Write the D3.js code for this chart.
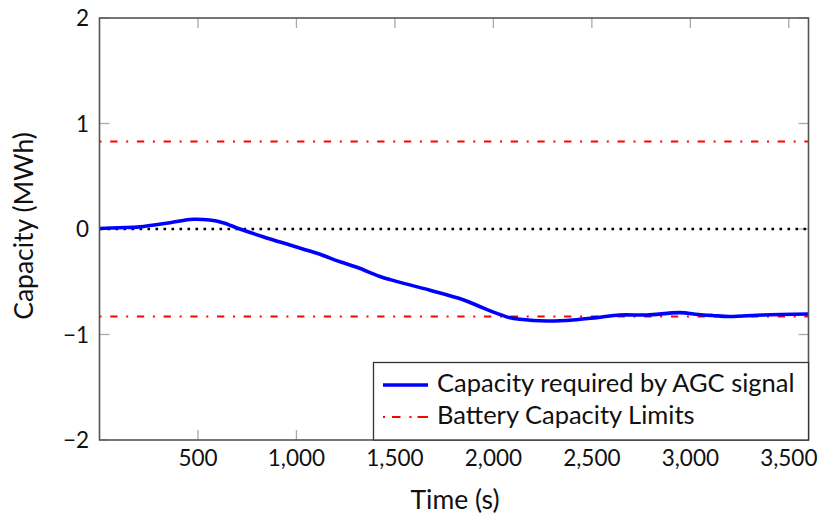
<!DOCTYPE html>
<html><head><meta charset="utf-8">
<script src="https://cdn.jsdelivr.net/npm/d3@7"></script>
<style>body{margin:0;background:#fff}svg{display:block}text{font-family:Lato,"Open Sans",sans-serif;fill:#111}</style>
</head><body>
<svg id="c" width="822" height="518"></svg>
<script>
const times = [0,100,205,358,475,560,627,713,830,967,1104,1221,1307,1424,1475,1678,1846,1950,2018,2080,2135,2271,2404,2525,2642,2779,2946,3040,3114,3200,3368,3600];
const capacity = [0.005,0.012,0.02,0.06,0.092,0.085,0.06,0.0,-0.073,-0.152,-0.23,-0.31,-0.363,-0.45,-0.48,-0.58,-0.67,-0.75,-0.80,-0.84,-0.856,-0.872,-0.863,-0.84,-0.815,-0.815,-0.793,-0.81,-0.82,-0.83,-0.815,-0.806];
const limits = [0.83,-0.83];
const xTicks = [500,1000,1500,2000,2500,3000,3500];
const yTicks = [-2,-1,0,1,2];
const seriesNames = ["Capacity required by AGC signal","Battery Capacity Limits"];

const svg = d3.select("#c");
const L=99.5,R=808.5,T=18,B=440;
const x = d3.scaleLinear().domain([0,3600]).range([L,R]);
const y = d3.scaleLinear().domain([-2,2]).range([B,T]);
const fmt = d3.format(",");
const minus = v => (v<0?"\u2212"+Math.abs(v):String(v));

// ticks (inward, both sides)
const tg = svg.append("g").attr("stroke","#aaa").attr("stroke-width",1.3);
xTicks.forEach(t=>{
  tg.append("line").attr("x1",x(t)).attr("x2",x(t)).attr("y1",B).attr("y2",B-10);
  tg.append("line").attr("x1",x(t)).attr("x2",x(t)).attr("y1",T).attr("y2",T+10);
});
yTicks.forEach(t=>{
  tg.append("line").attr("y1",y(t)).attr("y2",y(t)).attr("x1",L).attr("x2",L+10);
  tg.append("line").attr("y1",y(t)).attr("y2",y(t)).attr("x1",R).attr("x2",R-10);
});

// zero line
svg.append("line").attr("x1",x(0)).attr("x2",x(3600)).attr("y1",y(0)).attr("y2",y(0))
  .attr("stroke","#000").attr("stroke-width",2.6).attr("stroke-dasharray","2.6,5.4");
// limits
limits.forEach(v=>{
  svg.append("line").attr("x1",x(0)).attr("x2",x(3600)).attr("y1",y(v)).attr("y2",y(v))
    .attr("stroke","#ff0000").attr("stroke-width",2).attr("stroke-dasharray","2,8.7,7.3,8.7");
});
// curve
const line = d3.line().x((d,i)=>x(times[i])).y(d=>y(d)).curve(d3.curveCatmullRom.alpha(0.5));
svg.append("path").datum(capacity).attr("d",line).attr("fill","none").attr("stroke","#0000ff").attr("stroke-width",3.6).attr("stroke-linejoin","round");

// frame
svg.append("rect").attr("x",L).attr("y",T).attr("width",R-L).attr("height",B-T).attr("fill","none").attr("stroke","#555").attr("stroke-width",1.6);

// tick labels
xTicks.forEach(t=>{
  svg.append("text").attr("x",x(t)).attr("y",466).attr("text-anchor","middle").attr("font-size",22.5).text(fmt(t));
});
yTicks.forEach(t=>{
  svg.append("text").attr("x",89).attr("y",y(t)+8).attr("text-anchor","end").attr("font-size",22.5).text(minus(t));
});
// axis labels
svg.append("text").attr("x",455).attr("y",509).attr("text-anchor","middle").attr("font-size",26.5).text("Time (s)");
svg.append("text").attr("transform","translate(33,226) rotate(-90)").attr("text-anchor","middle").attr("font-size",26.5).text("Capacity (MWh)");

// legend
const lg = svg.append("g");
lg.append("rect").attr("x",373.5).attr("y",362.5).attr("width",R-373.5).attr("height",B-362.5).attr("fill","#fff").attr("stroke","#333").attr("stroke-width",1.3);
lg.append("line").attr("x1",383).attr("x2",428).attr("y1",385).attr("y2",385).attr("stroke","#0000ff").attr("stroke-width",3.6);
lg.append("line").attr("x1",383).attr("x2",428).attr("y1",417).attr("y2",417).attr("stroke","#ff0000").attr("stroke-width",2).attr("stroke-dasharray","2,7,8.5,9,2,6,12");
lg.append("text").attr("x",437).attr("y",392).attr("font-size",25.5).text(seriesNames[0]);
lg.append("text").attr("x",437).attr("y",424).attr("font-size",25.5).text(seriesNames[1]);
</script>
</body></html>
